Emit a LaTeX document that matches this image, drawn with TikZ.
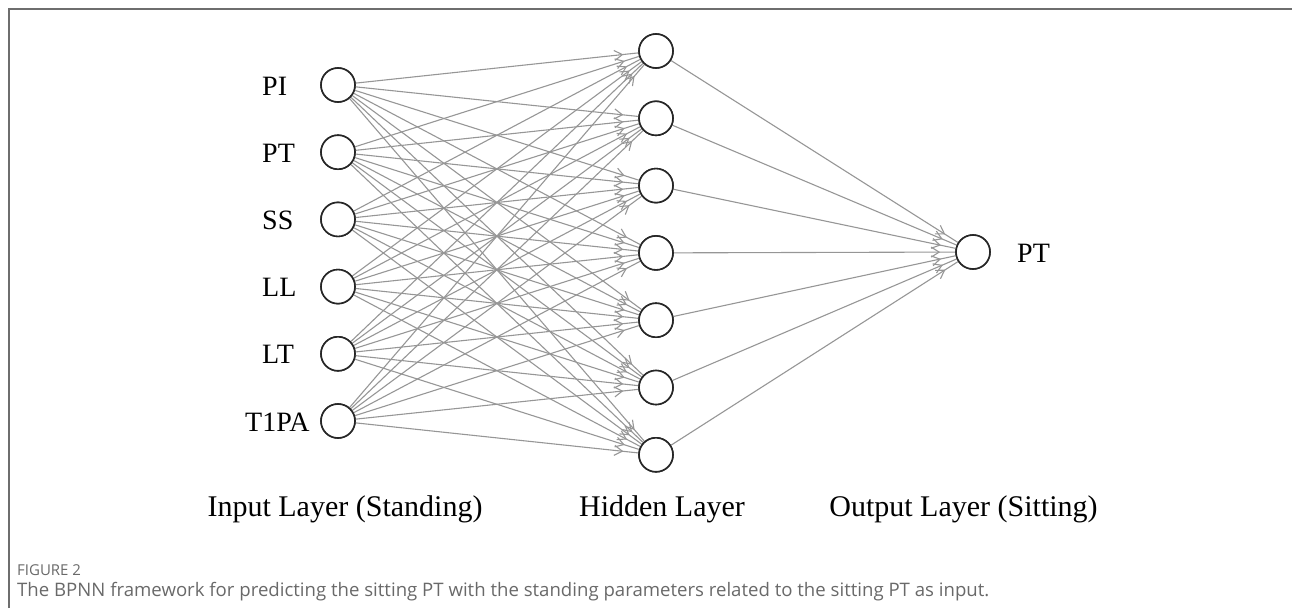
\documentclass[tikz,border=0pt]{standalone}
\usepackage{fontspec}
\setmainfont{Liberation Serif}
\newfontfamily\capfont{Open Sans}
\usetikzlibrary{arrows.meta,decorations.markings}
\definecolor{linegray}{RGB}{150,150,150}
\definecolor{framegray}{RGB}{110,110,110}
\definecolor{capgray}{RGB}{105,105,105}
\begin{document}
\begin{tikzpicture}[x=1pt,y=-1pt,
  neuron/.style={circle,draw=black!85,line width=1.6pt,minimum size=34pt,inner sep=0pt,fill=white},
  lbl/.style={font=\fontsize{28}{30}\selectfont,inner sep=0pt,anchor=west},
  layerlbl/.style={font=\fontsize{30}{33}\selectfont,inner sep=0pt,anchor=base},
  conn/.style={draw=linegray,line width=1.1pt,postaction={decorate},
    decoration={markings,mark=at position -15pt with {\arrow[linegray,line width=1.1pt]{Straight Barb[length=8pt,width=10pt]}}}}]
\useasboundingbox (0,0) rectangle (1292,608);
\draw[framegray,line width=1.3pt] (9,608) -- (9,9) -- (1292,9);
% input layer
\foreach \n [count=\i from 0] in {1,...,6}{
  \node[neuron] (i\n) at (338,85+67.2*\i) {};
}
% hidden layer
\foreach \n [count=\j from 0] in {1,...,7}{
  \node[neuron] (h\n) at (656,51+67.3*\j) {};
}
% output layer
\node[neuron] (o) at (973,252) {};
% labels
\node[lbl] (lPI) at (262,86) {PI};
\node[lbl] (lPT) at (262,153.2) {PT};
\node[lbl] (lSS) at (262,220.4) {SS};
\node[lbl] (lLL) at (262,287.6) {LL};
\node[lbl] (lLT) at (262,354.8) {LT};
\node[lbl] (lT1PA) at (245,422) {T1PA};
\node[lbl] (lout) at (1017,253) {PT};
% connections
\foreach \a in {1,...,6}{
  \foreach \b in {1,...,7}{
    \draw[conn] (i\a) -- (h\b);
  }
}
\foreach \b in {1,...,7}{
  \draw[conn] (h\b) -- (o);
}
% redraw neurons on top
\foreach \n in {1,...,6}{
  \node[neuron] at (i\n) {};
}
\foreach \n in {1,...,7}{
  \node[neuron] at (h\n) {};
}
\node[neuron] at (o) {};
% layer labels
\node[layerlbl] (lin) at (345,516) {Input Layer (Standing)};
\node[layerlbl] (lhid) at (662,516) {Hidden Layer};
\node[layerlbl] (lo) at (963.5,516) {Output Layer (Sitting)};
% caption
\node[anchor=base west,inner sep=0pt,text=capgray,font=\capfont\fontsize{15}{17}\selectfont] (fig) at (17,575) {FIGURE 2};
\node[anchor=base west,inner sep=0pt,text=capgray,font=\capfont\fontsize{18.6}{21}\selectfont] (cap) at (17,596) {The BPNN framework for predicting the sitting PT with the standing parameters related to the sitting PT as input.};
\end{tikzpicture}
\end{document}
